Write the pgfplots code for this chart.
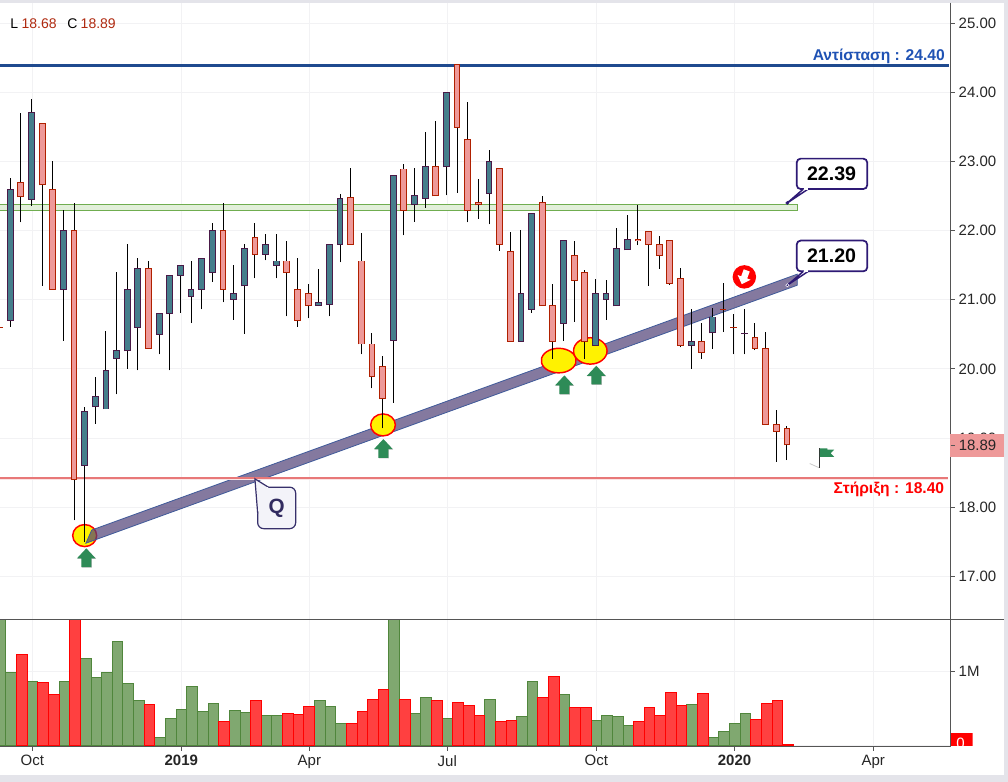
\documentclass[border=0pt]{standalone}
\usepackage{pgfplots}
\usepackage{pgfplotstable}
\usepackage{fontspec}
\setmainfont{Liberation Sans}
\pgfplotsset{compat=1.18}

\definecolor{gridc}{HTML}{F2F2F4}
\definecolor{axisc}{HTML}{555555}
\definecolor{chrome}{HTML}{E4E4EA}
\definecolor{tealfill}{HTML}{457E8C}
\definecolor{tealedge}{HTML}{4A1A48}
\definecolor{redfill}{HTML}{EE9999}
\definecolor{rededge}{HTML}{B02000}
\definecolor{volgreen}{HTML}{80A870}
\definecolor{volgreenedge}{HTML}{50863C}
\definecolor{volred}{HTML}{FF4040}
\definecolor{resist}{HTML}{1F4A8F}
\definecolor{resisttext}{HTML}{1F52B4}
\definecolor{support}{HTML}{E87878}
\definecolor{bandfill}{HTML}{E2EFDA}
\definecolor{bandedge}{HTML}{70AD50}
\definecolor{trendfill}{HTML}{504177}
\definecolor{trendedge}{HTML}{3F5A9A}
\definecolor{callout}{HTML}{2E1A75}
\definecolor{qfill}{HTML}{F3F3F9}
\definecolor{qedge}{HTML}{37306B}
\definecolor{arrowgreen}{HTML}{2E8B57}
\definecolor{headred}{HTML}{B02A10}

\newcommand{\tickfont}{\fontsize{11.25}{13}\selectfont}

% candles: i, body bottom, body top, low, high
\pgfplotstableread{
i bot top low high
0 20.70 22.60 20.61 22.76
2 22.45 23.70 22.36 23.90
5 21.15 22.00 20.41 22.30
7 18.61 19.39 17.50 19.45
8 19.45 19.60 19.21 19.88
9 19.42 19.97 19.42 20.55
10 20.15 20.26 19.63 21.40
11 20.26 21.15 20.00 21.81
12 20.60 21.45 19.98 21.60
14 20.50 20.80 20.21 20.80
15 20.80 21.35 19.98 21.35
16 21.35 21.50 20.81 21.50
17 21.05 21.15 20.66 21.56
18 21.15 21.60 20.86 21.60
19 21.40 22.00 21.26 22.11
21 21.01 21.09 20.71 21.50
22 21.20 21.74 20.51 21.81
24 21.66 21.80 21.57 21.95
25 21.50 21.56 21.31 21.95
29 20.92 20.96 20.92 21.45
30 20.93 21.80 20.76 21.80
31 21.80 22.47 21.54 22.53
36 20.41 22.80 19.51 22.80
38 22.38 22.50 22.13 22.91
39 22.47 22.92 22.33 23.42
41 22.92 23.99 22.51 24.00
45 22.54 23.00 22.09 23.16
48 20.40 21.09 20.40 22.01
49 20.86 22.24 20.81 22.24
52 20.66 21.86 20.41 21.86
55 20.34 21.09 20.34 21.30
56 21.01 21.09 20.71 21.29
57 20.91 21.74 20.91 22.04
58 21.72 21.87 21.72 22.23
64 20.34 20.39 20.00 20.86
66 20.52 20.75 20.29 20.88
69 20.51 20.51 20.21 20.86
}\upcandles

\pgfplotstableread{
i bot top low high
-1 20.60 20.60 19.85 21.01
1 22.49 22.70 22.12 23.70
3 22.66 23.55 21.20 23.55
4 21.15 22.60 21.15 23.01
6 18.40 22.00 17.81 22.40
13 20.30 21.45 20.30 21.56
20 21.15 22.00 20.96 22.40
23 21.66 21.90 21.31 22.11
26 21.40 21.56 20.76 21.85
27 20.70 21.15 20.61 21.60
28 20.92 21.09 20.73 21.23
32 21.80 22.48 21.80 22.91
33 20.36 21.56 20.21 21.97
34 19.89 20.36 19.72 20.52
35 19.57 20.04 19.14 20.19
37 22.29 22.89 21.93 22.96
40 22.50 22.92 22.50 23.59
42 23.49 24.40 22.55 24.40
43 22.29 23.31 22.12 23.86
44 22.37 22.40 22.17 22.74
46 21.80 22.90 21.71 22.90
47 20.40 21.70 20.40 21.98
50 20.91 22.40 20.91 22.50
51 20.40 20.91 20.15 21.23
53 21.28 21.64 20.68 21.85
54 20.39 21.40 20.15 21.43
59 21.85 21.87 21.79 22.37
60 21.80 21.98 21.20 21.98
61 21.64 21.80 21.45 21.92
62 21.24 21.85 21.21 21.85
63 20.34 21.30 20.31 21.46
65 20.24 20.39 20.15 20.67
67 20.86 20.86 20.53 21.24
68 20.60 20.60 20.21 20.80
70 20.30 20.46 20.27 20.67
71 19.20 20.30 19.20 20.54
72 19.10 19.20 18.66 19.40
73 18.90 19.14 18.68 19.18
}\downcandles

% volume in millions
\pgfplotstableread{
i v
-1 1.8
0 .986
2 .864
5 .864
7 1.176
8 .919
9 .986
10 1.407
11 .837
12 .606
14 .104
15 .362
16 .484
17 .796
18 .457
19 .566
21 .471
22 .443
24 .403
25 .403
29 .606
30 .525
31 .294
36 1.8
38 .43
39 .647
41 .362
45 .62
48 .389
49 .864
52 .688
55 .335
56 .403
57 .389
58 .267
64 .552
66 .104
67 .186
68 .294
69 .43
}\volup

\pgfplotstableread{
i v
1 1.222
3 .851
4 .688
6 1.8
13 .552
20 .321
23 .606
26 .43
27 .416
28 .525
32 .294
33 .457
34 .62
35 .756
37 .62
40 .606
42 .579
43 .538
44 .403
46 .321
47 .335
50 .647
51 .932
53 .511
54 .511
59 .321
60 .511
61 .403
62 .715
63 .538
65 .701
70 .348
71 .566
72 .606
73 .005
}\voldown

\pgfdeclareplotmark{uparrow}{%
  \pgfpathmoveto{\pgfpoint{0.4pt}{6.6pt}}%
  \pgfpathlineto{\pgfpoint{7.4pt}{-0.9pt}}%
  \pgfpathlineto{\pgfpoint{4.15pt}{-0.9pt}}%
  \pgfpathlineto{\pgfpoint{4.15pt}{-7.4pt}}%
  \pgfpathlineto{\pgfpoint{-3.35pt}{-7.4pt}}%
  \pgfpathlineto{\pgfpoint{-3.35pt}{-0.9pt}}%
  \pgfpathlineto{\pgfpoint{-6.6pt}{-0.9pt}}%
  \pgfpathclose
  \pgfsetfillcolor{black!25}%
  \pgfusepathqfill
  \pgfpathmoveto{\pgfpoint{0pt}{7pt}}%
  \pgfpathlineto{\pgfpoint{7pt}{-0.5pt}}%
  \pgfpathlineto{\pgfpoint{3.75pt}{-0.5pt}}%
  \pgfpathlineto{\pgfpoint{3.75pt}{-7pt}}%
  \pgfpathlineto{\pgfpoint{-3.75pt}{-7pt}}%
  \pgfpathlineto{\pgfpoint{-3.75pt}{-0.5pt}}%
  \pgfpathlineto{\pgfpoint{-7pt}{-0.5pt}}%
  \pgfpathclose
  \pgfsetfillcolor{arrowgreen}%
  \pgfusepathqfill
}

\pgfdeclareplotmark{downbadge}{%
  \pgfpathcircle{\pgfpointorigin}{8.8pt}%
  \pgfsetfillcolor{red}%
  \pgfusepathqfill
  \pgftransformrotate{160}%
  \pgfpathmoveto{\pgfpoint{0pt}{5.8pt}}%
  \pgfpathlineto{\pgfpoint{5.2pt}{0.4pt}}%
  \pgfpathlineto{\pgfpoint{2.4pt}{0.4pt}}%
  \pgfpathlineto{\pgfpoint{2.4pt}{-5.2pt}}%
  \pgfpathlineto{\pgfpoint{-2.4pt}{-5.2pt}}%
  \pgfpathlineto{\pgfpoint{-2.4pt}{0.4pt}}%
  \pgfpathlineto{\pgfpoint{-5.2pt}{0.4pt}}%
  \pgfpathclose
  \pgfsetfillcolor{white}%
  \pgfusepathqfill
}

\pgfdeclareplotmark{flag}{%
  \pgfsetstrokecolor{black!20}%
  \pgfsetlinewidth{0.6pt}%
  \pgfpathmoveto{\pgfpointorigin}%
  \pgfpathlineto{\pgfpoint{-7.2pt}{3.2pt}}%
  \pgfusepathqstroke
  \pgfsetstrokecolor{black!80}%
  \pgfsetlinewidth{0.7pt}%
  \pgfpathmoveto{\pgfpointorigin}%
  \pgfpathlineto{\pgfpoint{0pt}{14.5pt}}%
  \pgfusepathqstroke
  \pgfpathmoveto{\pgfpoint{0.4pt}{14.5pt}}%
  \pgfpathlineto{\pgfpoint{6pt}{14.5pt}}%
  \pgfpathlineto{\pgfpoint{6pt}{13.6pt}}%
  \pgfpathlineto{\pgfpoint{11.2pt}{13.6pt}}%
  \pgfpathlineto{\pgfpoint{8.6pt}{10.9pt}}%
  \pgfpathlineto{\pgfpoint{11.2pt}{8.2pt}}%
  \pgfpathlineto{\pgfpoint{0.4pt}{8.2pt}}%
  \pgfpathclose
  \pgfsetfillcolor{arrowgreen}%
  \pgfusepathqfill
}

\pgfplotsset{
  wick/.style={draw=none, mark=none, forget plot,
    error bars/.cd, y dir=plus, y explicit, error mark=none,
    error bar style={draw=black, line width=0.75pt, solid}},
  body/.style 2 args={draw=none, mark=none, forget plot,
    error bars/.cd, y dir=plus, y explicit, error mark=none,
    error bar style={draw=#1, line width=#2, solid}},
  ring/.style 2 args={only marks, mark=*, mark size=#1,
    mark options={draw=red, fill=yellow, line width=1.1pt, solid, #2}},
  pane/.style={
    scale only axis,
    width=713pt,
    anchor=north west,
    xmin=-0.959, xmax=88.39,
    xtick={2.08,16.08,28.12,41.08,55.08,68.08,81.11},
    grid=major,
    major grid style={draw=gridc, line width=0.75pt},
    axis line style={draw=none},
    tick align=outside,
    major tick length=3pt,
    ytick pos=right,
    ytick style={draw=axisc, line width=0.75pt},
    scaled y ticks=false,
    y tick label style={font=\tickfont, text=black!85, anchor=west, xshift=-0.5pt},
    clip=true,
  },
  % same frame as the price pane, no axis drawn; marks lie over earlier axes
  price layer/.style={
    scale only axis,
    width=713pt,
    height=462.2pt,
    anchor=north west,
    at={(0pt,-2.25pt)},
    xmin=-0.959, xmax=88.39,
    ymin=16.38, ymax=25.29,
    hide axis,
  },
}

\begin{document}
\begin{tikzpicture}[x=0.75pt,y=-0.75pt]
\useasboundingbox (0,0) rectangle (1008,782);
\fill[white] (0,0) rectangle (1008,782);
\fill[chrome] (0,0) rectangle (1008,2.7);
\fill[chrome] (1004,0) rectangle (1008,782);
\fill[chrome] (0,775) rectangle (1008,782);

\begin{axis}[pane,
  at={(0pt,-2.25pt)},
  height=462.2pt,
  ymin=16.38, ymax=25.29,
  ytick={17,18,...,25},
  xticklabels={},
  xtick style={draw=none},
  y tick label style={/pgf/number format/fixed,
    /pgf/number format/fixed zerofill,
    /pgf/number format/precision=2,
    /pgf/number format/assume math mode=true},
]
% support zone
\addplot[fill=bandfill, draw=bandedge, line width=0.75pt, forget plot]
  coordinates {(-2,22.38)(73.98,22.38)(73.98,22.29)(-2,22.29)(-2,22.38)};
% first touch sits under the translucent trend band
\addplot[ring={8.25pt}{xscale=1.09}, forget plot] coordinates {(7.0,17.59)};
\end{axis}

\begin{axis}[price layer]
% trend band
\addplot[fill=trendfill, fill opacity=0.7, draw=trendedge, line width=0.6pt, forget plot]
  coordinates {(7.66,17.67)(73.98,21.37)(73.98,21.21)(7.12,17.48)(7.66,17.67)};
\addplot[ring={8.25pt}{xscale=1.12}, forget plot] coordinates {(35.04,19.19)};
\addplot[ring={9.2pt}{xscale=1.42, rotate=-12}, forget plot] coordinates {(51.55,20.12)};
\addplot[ring={9.9pt}{xscale=1.27}, forget plot] coordinates {(54.52,20.26)};
\addplot[only marks, mark=uparrow, forget plot]
  coordinates {(7.15,17.27)(35.07,18.85)(52.08,19.77)(55.08,19.91)};
\end{axis}

\begin{axis}[price layer]
% resistance and support lines
\addplot[resist, line width=2pt, forget plot] coordinates {(-2,24.39)(88.23,24.39)};
\addplot[support, line width=1.6pt, forget plot] coordinates {(-2,18.42)(88.14,18.42)};
\addplot[white!80!support, line width=0.5pt, forget plot] coordinates {(-2,18.40)(88.14,18.40)};

% candles
\addplot[wick] table[x=i, y=low, y error plus expr={\thisrow{high}-\thisrow{low}}] {\upcandles};
\addplot[wick] table[x=i, y=low, y error plus expr={\thisrow{high}-\thisrow{low}}] {\downcandles};
\addplot[body={tealedge}{5.1pt}] table[x=i, y expr={\thisrow{bot}-0.007}, y error plus expr={\thisrow{top}-\thisrow{bot}+0.014}] {\upcandles};
\addplot[body={tealfill}{3.6pt}] table[x=i, y expr={\thisrow{bot}+0.007}, y error plus expr={max(\thisrow{top}-\thisrow{bot}-0.014,0)}] {\upcandles};
\addplot[body={rededge}{5.1pt}] table[x=i, y expr={\thisrow{bot}-0.007}, y error plus expr={\thisrow{top}-\thisrow{bot}+0.014}] {\downcandles};
\addplot[body={redfill}{3.6pt}] table[x=i, y expr={\thisrow{bot}+0.007}, y error plus expr={max(\thisrow{top}-\thisrow{bot}-0.014,0)}] {\downcandles};

% markers on the right side
\addplot[only marks, mark=downbadge, forget plot] coordinates {(69.0,21.33)};
\addplot[only marks, mark=flag, forget plot] coordinates {(76.04,18.57)};

% callouts
\addplot[fill=white, draw=callout, line width=1.3pt, rounded corners=3pt, forget plot]
  coordinates {(77,23.04)(80.55,23.04)(80.55,22.60)(73.92,22.60)(73.92,23.04)(77,23.04)};
\addplot[fill=white, draw=callout, line width=1.1pt, forget plot]
  coordinates {(74.54,22.60)(73.04,22.40)(75.0,22.60)};
\addplot[white, line width=1.4pt, forget plot] coordinates {(74.60,22.60)(74.95,22.60)};
\addplot[only marks, mark=*, mark size=1.2pt, mark options={draw=callout, fill=callout}, forget plot]
  coordinates {(73.04,22.40)};

\addplot[fill=white, draw=callout, line width=1.3pt, rounded corners=3pt, forget plot]
  coordinates {(77,21.855)(80.55,21.855)(80.55,21.41)(73.92,21.41)(73.92,21.855)(77,21.855)};
\addplot[fill=white, draw=callout, line width=1.1pt, forget plot]
  coordinates {(74.54,21.41)(73.04,21.21)(75.0,21.41)};
\addplot[white, line width=1.4pt, forget plot] coordinates {(74.60,21.41)(74.95,21.41)};
\addplot[only marks, mark=*, mark size=1.2pt, mark options={draw=white, fill=callout}, forget plot]
  coordinates {(73.04,21.21)};

\addplot[fill=qfill, draw=qedge, line width=0.9pt, rounded corners=4.5pt, forget plot]
  coordinates {(25,18.29)(26.83,18.29)(26.83,17.69)(23.26,17.69)(23.26,18.29)(25,18.29)};
\addplot[fill=qfill, draw=qedge, line width=0.9pt, forget plot]
  coordinates {(23.26,17.91)(23.0,18.41)(24.26,18.29)};
\addplot[qfill, line width=1.6pt, forget plot] coordinates {(23.36,17.95)(23.36,18.27)(24.2,18.27)};

% texts
\node[anchor=center, font=\fontsize{14.7}{16}\selectfont\bfseries, text=black] at (axis cs:77.2,22.82) {22.39};
\node[anchor=center, font=\fontsize{14.7}{16}\selectfont\bfseries, text=black] at (axis cs:77.2,21.63) {21.20};
\node[anchor=center, font=\fontsize{15.5}{17}\selectfont\bfseries, text=qedge!90!black] at (axis cs:25.05,17.98) {Q};
\node[anchor=east, inner sep=0pt, font=\fontsize{11.7}{13}\selectfont\bfseries, text=resisttext] at (axis cs:87.86,24.52) {Αντίσταση : 24.40};
\node[anchor=east, inner sep=0pt, font=\fontsize{11.7}{13}\selectfont\bfseries, text=red] at (axis cs:87.8,18.26) {Στήριξη : 18.40};
\node[anchor=west, inner sep=0pt, font=\fontsize{10.5}{12}\selectfont, text=black] at (axis cs:0,24.99)
  {L\hspace{2.5pt}\textcolor{headred}{18.68}\hspace{8pt}C\hspace{2.5pt}\textcolor{headred}{18.89}};
\end{axis}

\begin{axis}[pane,
  at={(0pt,-464.475pt)},
  height=95.55pt,
  ymin=-0.023, ymax=1.706,
  ytick={0,1},
  yticklabels={,1M},
  xticklabels={Oct,\textbf{2019},Apr,Jul,Oct,\textbf{2020},Apr},
  xtick pos=bottom,
  xtick style={draw=axisc, line width=0.75pt},
  x tick label style={font=\tickfont, text=black!85},
  ybar,
  bar width=7.98pt,
  bar shift=0.8pt,
]
\addplot[fill=volgreen, draw=volgreenedge, line width=0.75pt] table[x=i, y=v] {\volup};
\addplot[fill=volred, draw=red, line width=0.75pt] table[x=i, y=v] {\voldown};
\end{axis}

% pane separators and the price scale
\draw[axisc, line width=0.75pt] (0,619.3) -- (1004,619.3);
\draw[axisc, line width=0.75pt] (0,746.7) -- (950.7,746.7);
\draw[axisc, line width=0.9pt] (950.7,2.7) -- (950.7,746.9);

% last price tag
\fill[redfill] (950.3,434) rectangle (1004,456.7);
\draw[axisc, line width=0.75pt] (950.7,445.3) -- (955,445.3);
\node[anchor=west, inner sep=0pt, font=\tickfont, text=black!85] at (958.5,445.3) {18.89};

% zero tag of the volume scale
\begin{scope}
\clip (950.7,733) rectangle (972.7,746);
\fill[red] (950.7,733) rectangle (972.7,746);
\node[anchor=west, inner sep=0pt, font=\tickfont, text=white] at (956,743) {0};
\end{scope}
\end{tikzpicture}
\end{document}
